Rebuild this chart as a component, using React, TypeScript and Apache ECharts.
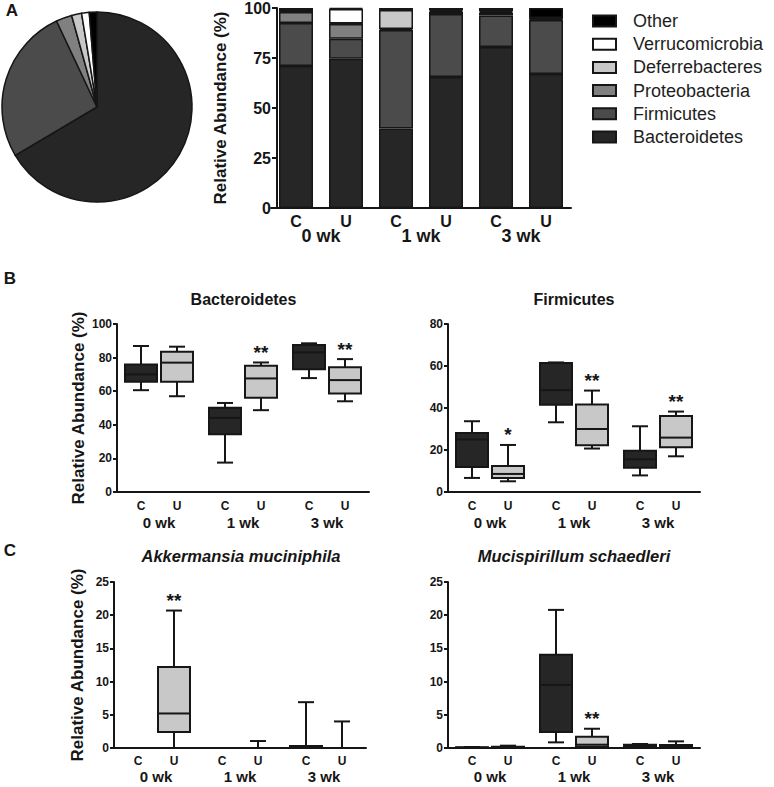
import React, { useEffect, useRef } from 'react';
import * as echarts from 'echarts';

const FONT = '"Liberation Sans", Arial, Helvetica, sans-serif';
const INK = '#161616';
const DARK = '#262626';
const LIGHT = '#c8c8c8';

// ---------- Panel A data ----------
const phyla = ['Bacteroidetes', 'Firmicutes', 'Proteobacteria', 'Deferrebacteres', 'Verrucomicrobia', 'Other'];
const phylaColors = ['#262626', '#4b4b4b', '#808080', '#c8c8c8', '#ffffff', '#000000'];
const legendOrder = ['Other', 'Verrucomicrobia', 'Deferrebacteres', 'Proteobacteria', 'Firmicutes', 'Bacteroidetes'];
const pieValues = [66.5, 26.5, 2.7, 1.7, 1.3, 1.3];
const groupLabels = ['C', 'U', 'C', 'U', 'C', 'U'];
const weeks = ['0 wk', '1 wk', '3 wk'];
const bacteroidetesPct = [71, 74.6, 39.8, 65.5, 80.5, 67];
const firmicutesPct = [21.5, 10, 49.2, 31.5, 15.8, 27];
const proteobacteriaPct = [5.5, 7.4, 0.5, 1, 1.2, 0.5];
const deferrebacteresPct = [0.3, 0.2, 9.5, 0.5, 0.5, 0.2];
const verrucomicrobiaPct = [0.2, 7.3, 0.2, 0.5, 0.5, 0.3];
const otherPct = [1.5, 0.5, 0.8, 1, 1.5, 5];
const barData = [bacteroidetesPct, firmicutesPct, proteobacteriaPct, deferrebacteresPct, verrucomicrobiaPct, otherPct];

// ---------- Panels B & C data: [min, Q1, median, Q3, max] ----------
const bacteroidetesBox = [
  [60.6, 65.6, 70, 75.9, 86.9],
  [57, 65.6, 77, 83.5, 86.5],
  [17.5, 34.4, 44.1, 50.1, 53],
  [48.7, 56.1, 67.6, 75.1, 77.1],
  [67.8, 73, 83.1, 87.5, 88.5],
  [54, 58.6, 66.6, 74.2, 79.1],
];
const bacteroidetesSig = ['', '', '', '**', '', '**'];
const firmicutesBox = [
  [6.7, 11.9, 25, 28.1, 33.7],
  [5.1, 6.7, 8.6, 12.4, 22.4],
  [33.2, 41.5, 48.5, 61.4, 61.7],
  [20.7, 22.3, 30, 41.7, 48.3],
  [7.9, 11.6, 15.6, 19.6, 31.3],
  [17, 21.3, 25.9, 36.2, 38.3],
];
const firmicutesSig = ['', '*', '', '**', '', '**'];
const akkermansiaBox = [
  [0, 0, 0, 0, 0],
  [0, 2.4, 5.2, 12.2, 20.7],
  [0, 0, 0, 0, 0],
  [0, 0, 0, 0, 1.05],
  [0, 0, 0.1, 0.3, 6.9],
  [0, 0, 0, 0, 4.0],
];
const akkermansiaSig = ['', '**', '', '', '', ''];
const mucispirillumBox = [
  [0, 0, 0.05, 0.1, 0.15],
  [0, 0.05, 0.1, 0.2, 0.35],
  [0.85, 2.4, 9.5, 14.06, 20.8],
  [0, 0.2, 0.5, 1.7, 2.9],
  [0, 0.1, 0.3, 0.5, 0.6],
  [0, 0.1, 0.3, 0.45, 1.0],
];
const mucispirillumSig = ['', '', '', '**', '', ''];

// layout slots on the box-plot category axes (C/U pairs with gaps between weeks)
const SLOT_COUNT = 22;
const boxSlots = [2, 5, 9, 12, 16, 19];
const slotLabels = Array.from({ length: SLOT_COUNT }, (_, i) => {
  const k = boxSlots.indexOf(i);
  return k >= 0 ? groupLabels[k] : '';
});

const boldText = (size: number) => ({ color: INK, fontWeight: 'bold' as const, fontSize: size, fontFamily: FONT });

function boxSeries(name: string, box: number[][], sig: string[], axisIndex: number) {
  return {
    type: 'custom',
    name,
    xAxisIndex: axisIndex * 2 + 2,
    yAxisIndex: axisIndex + 1,
    clip: false,
    silent: true,
    data: box.map((b, k) => [boxSlots[k], ...b]),
    encode: { x: 0, y: [1, 2, 3, 4, 5] },
    renderItem: (params: any, api: any) => {
      const k = params.dataIndex;
      const x = api.value(0);
      const ys = [1, 2, 3, 4, 5].map((d) => api.coord([x, api.value(d)])[1]);
      const cx = api.coord([x, 0])[0];
      const hw = 16;
      const cap = 8;
      const ls = { stroke: INK, lineWidth: 2 };
      const children: any[] = [
        { type: 'line', shape: { x1: cx, y1: ys[4], x2: cx, y2: ys[3] }, style: ls },
        { type: 'line', shape: { x1: cx, y1: ys[1], x2: cx, y2: ys[0] }, style: ls },
        { type: 'line', shape: { x1: cx - cap, y1: ys[4], x2: cx + cap, y2: ys[4] }, style: ls },
        { type: 'line', shape: { x1: cx - cap, y1: ys[0], x2: cx + cap, y2: ys[0] }, style: ls },
        {
          type: 'rect',
          shape: { x: cx - hw, y: ys[3], width: hw * 2, height: Math.max(ys[1] - ys[3], 0) },
          style: { fill: k % 2 ? LIGHT : DARK, stroke: INK, lineWidth: 2 },
        },
        { type: 'line', shape: { x1: cx - hw, y1: ys[2], x2: cx + hw, y2: ys[2] }, style: ls },
      ];
      if (sig[k]) {
        children.push({
          type: 'text',
          x: cx,
          y: ys[4] - 10,
          style: {
            text: sig[k],
            fill: INK,
            font: `bold 19px ${FONT}`,
            align: 'center',
            verticalAlign: 'middle',
            textAlign: 'center',
            textVerticalAlign: 'middle',
          },
        });
      }
      return { type: 'group', children };
    },
  };
}

const gridBase = { containLabel: false, outerBoundsMode: 'none' };
const grids = [
  { ...gridBase, left: 271, top: 8, width: 300, height: 200 },
  { ...gridBase, left: 117, top: 324, width: 252, height: 168 },
  { ...gridBase, left: 448, top: 324, width: 252, height: 168 },
  { ...gridBase, left: 114, top: 582, width: 252, height: 166 },
  { ...gridBase, left: 448, top: 582, width: 252, height: 166 },
];

const axisLine = { show: true, onZero: false, lineStyle: { color: INK, width: 2 } };

function slotAxis(gridIndex: number, margin: number) {
  return {
    type: 'category',
    gridIndex,
    position: 'bottom',
    data: slotLabels,
    boundaryGap: false,
    axisLine,
    axisTick: { show: false },
    splitLine: { show: false },
    axisLabel: { interval: 0, margin, ...boldText(12) },
  };
}
function weekAxis(gridIndex: number, margin: number, size: number) {
  return {
    type: 'category',
    gridIndex,
    position: 'bottom',
    data: weeks,
    boundaryGap: true,
    axisLine: { show: false },
    axisTick: { show: false },
    splitLine: { show: false },
    axisLabel: { interval: 0, margin, ...boldText(size) },
  };
}
function valueAxis(gridIndex: number, max: number, interval: number, name?: string, nameGap?: number) {
  return {
    type: 'value',
    gridIndex,
    min: 0,
    max,
    interval,
    axisLine,
    axisTick: { show: true, length: 4, lineStyle: { color: INK, width: 2 } },
    splitLine: { show: false },
    axisLabel: { margin: 5, ...boldText(12) },
    name: name || '',
    nameLocation: 'middle',
    nameGap: nameGap || 0,
    nameTextStyle: boldText(17),
  };
}

export default function App() {
  const ref = useRef<HTMLDivElement>(null);
  useEffect(() => {
    if (!ref.current) return;
    const chart = echarts.init(ref.current, undefined, { renderer: 'svg' });
    const option: any = {
      animation: false,
      backgroundColor: '#ffffff',
      textStyle: { fontFamily: FONT },
      grid: grids,
      legend: {
        data: legendOrder,
        orient: 'vertical',
        left: 592,
        top: 12,
        padding: 0,
        itemWidth: 23,
        itemHeight: 11,
        itemGap: 5.2,
        icon: 'rect',
        selectedMode: false,
        itemStyle: { borderColor: INK, borderWidth: 2 },
        textStyle: { color: '#1e1e1e', fontSize: 18, lineHeight: 18, fontFamily: FONT, padding: [0, 0, 0, 12] },
      },
      xAxis: [
        {
          type: 'category',
          gridIndex: 0,
          position: 'bottom',
          data: groupLabels,
          axisLine,
          axisTick: { show: false },
          axisLabel: { interval: 0, margin: 5, ...boldText(16) },
        },
        weekAxis(0, 19, 18),
        slotAxis(1, 8),
        weekAxis(1, 23, 15),
        slotAxis(2, 8),
        weekAxis(2, 23, 15),
        slotAxis(3, 7),
        weekAxis(3, 21, 15),
        slotAxis(4, 7),
        weekAxis(4, 21, 15),
      ],
      yAxis: [
        {
          type: 'value',
          gridIndex: 0,
          min: 0,
          max: 100,
          interval: 25,
          offset: -6,
          axisLine,
          axisTick: { show: true, length: 5, lineStyle: { color: INK, width: 2 } },
          splitLine: { show: false },
          axisLabel: { margin: 6, ...boldText(16) },
          name: 'Relative Abundance (%)',
          nameLocation: 'middle',
          nameGap: 48,
          nameTextStyle: boldText(17),
        },
        valueAxis(1, 100, 20, 'Relative Abundance (%)', 30),
        valueAxis(2, 80, 20),
        valueAxis(3, 25, 5, 'Relative Abundance (%)', 28),
        valueAxis(4, 25, 5),
      ],
      series: [
        {
          type: 'pie',
          center: [97, 107],
          radius: 95,
          startAngle: 90,
          clockwise: true,
          silent: true,
          label: { show: false },
          labelLine: { show: false },
          itemStyle: { borderColor: INK, borderWidth: 1.5 },
          data: phyla.map((n, i) => ({ name: n, value: pieValues[i], itemStyle: { color: phylaColors[i] } })),
        },
        ...phyla.map((n, i) => ({
          type: 'bar',
          name: n,
          stack: 'phyla',
          xAxisIndex: 0,
          yAxisIndex: 0,
          barWidth: 34,
          silent: true,
          itemStyle: { color: phylaColors[i], borderColor: INK, borderWidth: 1.5 },
          data: barData[i],
        })),
        boxSeries('Bacteroidetes box', bacteroidetesBox, bacteroidetesSig, 0),
        boxSeries('Firmicutes box', firmicutesBox, firmicutesSig, 1),
        boxSeries('Akkermansia box', akkermansiaBox, akkermansiaSig, 2),
        boxSeries('Mucispirillum box', mucispirillumBox, mucispirillumSig, 3),
      ],
      graphic: [
        { type: 'text', x: 12, y: 10, style: { text: 'A', fill: INK, font: `bold 17px ${FONT}`, align: 'center', verticalAlign: 'middle', textAlign: 'center', textVerticalAlign: 'middle' } },
        { type: 'text', x: 10, y: 278, style: { text: 'B', fill: INK, font: `bold 17px ${FONT}`, align: 'center', verticalAlign: 'middle', textAlign: 'center', textVerticalAlign: 'middle' } },
        { type: 'text', x: 10, y: 550, style: { text: 'C', fill: INK, font: `bold 17px ${FONT}`, align: 'center', verticalAlign: 'middle', textAlign: 'center', textVerticalAlign: 'middle' } },
        { type: 'text', x: 243.5, y: 299, style: { text: 'Bacteroidetes', fill: INK, font: `bold 16px ${FONT}`, align: 'center', verticalAlign: 'middle', textAlign: 'center', textVerticalAlign: 'middle' } },
        { type: 'text', x: 574, y: 299, style: { text: 'Firmicutes', fill: INK, font: `bold 16px ${FONT}`, align: 'center', verticalAlign: 'middle', textAlign: 'center', textVerticalAlign: 'middle' } },
        { type: 'text', x: 241, y: 556, style: { text: 'Akkermansia muciniphila', fill: INK, font: `italic bold 16.5px ${FONT}`, align: 'center', verticalAlign: 'middle', textAlign: 'center', textVerticalAlign: 'middle' } },
        { type: 'text', x: 574, y: 556, style: { text: 'Mucispirillum schaedleri', fill: INK, font: `italic bold 16.5px ${FONT}`, align: 'center', verticalAlign: 'middle', textAlign: 'center', textVerticalAlign: 'middle' } },
      ],
    };
    chart.setOption(option);
    return () => chart.dispose();
  }, []);
  return <div ref={ref} style={{ position: 'absolute', left: 0, top: 0, width: 774, height: 787 }} />;
}
